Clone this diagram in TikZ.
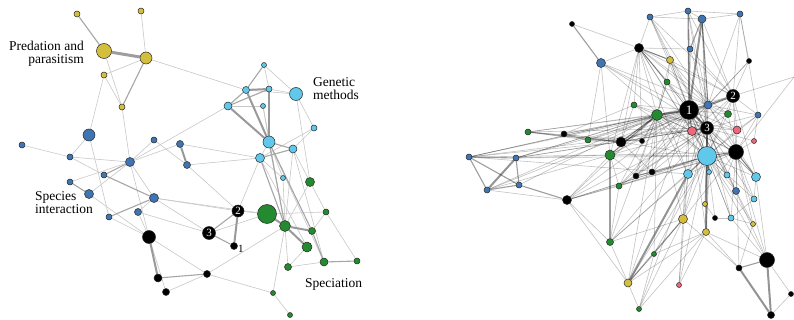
\documentclass[tikz,border=0pt]{standalone}
\usepackage{fontspec}
\setmainfont{Liberation Serif}
\usetikzlibrary{backgrounds}
\definecolor{cY}{RGB}{212,190,62}
\definecolor{cB}{RGB}{62,117,178}
\definecolor{cL}{RGB}{95,200,235}
\definecolor{cG}{RGB}{36,138,48}
\definecolor{cP}{RGB}{236,104,122}
\tikzset{
  nd/.style={circle,draw=black!85,line width=0.5pt,inner sep=0pt},
  e1/.style={line width=0.6pt,draw=black!22},
  e2/.style={line width=1.1pt,draw=black!35},
  e3/.style={line width=2pt,draw=black!40},
  e4/.style={line width=3pt,draw=black!38},
  re/.style={line width=0.6pt,draw=black,draw opacity=0.24},
  re2/.style={line width=1.1pt,draw=black,draw opacity=0.38},
  re3/.style={line width=2pt,draw=black,draw opacity=0.42},
  lab/.style={font=\fontsize{13.5}{13.5}\selectfont,inner sep=0pt},
  num/.style={text=white,font=\fontsize{11}{11}\selectfont},
}
\newcommand\nd[5]{\node[nd,fill=#2,minimum size=#3pt] (#1) at (#4,#5) {};}
\begin{document}
\begin{tikzpicture}[x=1pt,y=-1pt]
\useasboundingbox (0,0) rectangle (794,320);
% ---------------- left network nodes
\nd{Y1}{cY}{6}{77}{14}
\nd{Y2}{cY}{6}{141}{11}
\nd{Y3}{cY}{15}{104}{51}
\nd{Y4}{cY}{12}{146}{58}
\nd{Y5}{cY}{6}{104}{75}
\nd{Y6}{cY}{6}{122}{107}
\nd{B1}{cB}{12}{89}{135}
\nd{B2}{cB}{6}{22}{145}
\nd{B3}{cB}{6}{70}{157}
\nd{B4}{cB}{6}{154}{140}
\nd{B5}{cB}{7}{180}{144}
\nd{B6}{cB}{9}{130}{162}
\nd{B7}{cB}{7}{187}{165}
\nd{B8}{cB}{6}{70}{182}
\nd{B9}{cB}{6}{104}{175}
\nd{B10}{cB}{9}{89}{194}
\nd{B11}{cB}{9}{154}{198}
\nd{B12}{cB}{7}{138}{212}
\nd{B13}{cB}{6}{109}{217}
\nd{K1}{black}{13}{149}{237}
\nd{K2}{black}{8}{158}{278}
\nd{K3}{black}{7}{166}{292}
\nd{K4}{black}{7}{207}{274}
\node[nd,fill=black,minimum size=12pt,num] (N2) at (238,211) {2};
\node[nd,fill=black,minimum size=13pt,num] (N3) at (209,233) {3};
\nd{N1}{black}{7}{234}{246}
\node[font=\fontsize{11}{11}\selectfont,inner sep=0pt,anchor=base west] (N1l) at (238,252) {1};
\nd{G1}{cG}{19}{267}{214}
\nd{G2}{cG}{11}{285}{226}
\nd{G3}{cG}{9}{310}{182}
\nd{G4}{cG}{6}{326}{212}
\nd{G5}{cG}{7}{312}{231}
\nd{G6}{cG}{10}{307}{247}
\nd{G7}{cG}{8}{324}{262}
\nd{G8}{cG}{6}{357}{261}
\nd{G9}{cG}{7}{288}{267}
\nd{G10}{cG}{5}{273}{293}
\nd{G11}{cG}{5}{290}{315}
\nd{L1}{cL}{5}{264}{65}
\nd{L2}{cL}{7}{246}{90}
\nd{L3}{cL}{6}{269}{89}
\nd{L4}{cL}{13}{296}{94}
\nd{L5}{cL}{8}{228}{106}
\nd{L6}{cL}{5}{263}{106}
\nd{L7}{cL}{6}{314}{128}
\nd{L8}{cL}{12}{269}{142}
\nd{L9}{cL}{8}{293}{149}
\nd{L10}{cL}{9}{260}{158}
\nd{L11}{cL}{5}{283}{178}
% labels
\node[lab,anchor=base east] (t1a) at (84,51) {Predation and};
\node[lab,anchor=base east] (t1b) at (84,64) {parasitism};
\node[lab,anchor=base west] (t2a) at (313,87) {Genetic};
\node[lab,anchor=base west] (t2b) at (313,100) {methods};
\node[lab,anchor=base west] (t3a) at (35,201) {Species};
\node[lab,anchor=base west] (t3b) at (35,214) {interaction};
\node[lab,anchor=base west] (t4) at (305,287) {Speciation};
% ---------------- right network nodes
\nd{r1}{black}{5}{572}{24}
\nd{r2}{cB}{9}{601}{63}
\nd{r3}{cG}{6}{528}{132}
\nd{r4}{black}{6}{564}{134}
\nd{r5}{cG}{6}{588}{140}
\nd{r6}{black}{10}{621}{142}
\nd{r7}{cG}{10}{610}{155}
\nd{r8}{cB}{6}{469}{157}
\nd{r9}{cB}{6}{516}{158}
\nd{r10}{cB}{6}{650}{17}
\nd{r11}{cB}{6}{688}{11}
\nd{r12}{cB}{8}{702}{19}
\nd{r13}{cB}{6}{740}{14}
\nd{r14}{black}{9}{639}{48}
\nd{r15}{cB}{6}{690}{49}
\nd{r16}{cY}{7}{670}{60}
\nd{r17}{black}{5}{749}{61}
\nd{r18}{cG}{6}{667}{82}
\node[nd,fill=black,minimum size=13pt,num] (r19) at (733,96) {2};
\node[nd,fill=black,minimum size=19pt,text=white,font=\fontsize{13}{13}\selectfont] (r20) at (689,110) {1};
\nd{r21}{cB}{8}{708}{105}
\nd{r22}{cG}{6}{634}{105}
\nd{r23}{cG}{11}{657}{115}
\nd{r24}{cG}{7}{728}{114}
\nd{r25}{cB}{6}{758}{115}
\node[nd,fill=black,minimum size=13pt,num] (r26) at (707,128) {3};
\nd{r27}{cP}{9}{692}{131}
\nd{r28}{cP}{8}{737}{130}
\nd{r29}{cP}{5}{754}{141}
\nd{r30}{black}{5}{642}{141}
\nd{r31}{black}{15}{736}{152}
\nd{r32}{cL}{19}{707}{156}
\nd{r33}{cB}{6}{487}{190}
\nd{r34}{cB}{6}{519}{185}
\nd{r35}{cG}{6}{619}{186}
\nd{r36}{black}{9}{567}{200}
\nd{r37}{cG}{7}{610}{242}
\nd{r38}{cY}{8}{628}{283}
\nd{r39}{black}{6}{636}{176}
\nd{r40}{black}{6}{652}{172}
\nd{r41}{cL}{9}{688}{174}
\nd{r42}{cL}{5}{709}{172}
\nd{r43}{cL}{6}{727}{175}
\nd{r44}{cL}{9}{756}{177}
\nd{r45}{cB}{7}{736}{191}
\nd{r46}{cL}{6}{754}{199}
\nd{r47}{cY}{5}{705}{204}
\nd{r48}{cY}{9}{683}{219}
\nd{r49}{black}{5}{715}{218}
\nd{r50}{cL}{6}{731}{218}
\nd{r51}{cY}{5}{753}{224}
\nd{r52}{cY}{7}{706}{232}
\nd{r53}{cG}{5}{654}{254}
\nd{r54}{black}{15}{767}{260}
\nd{r55}{black}{6}{739}{268}
\nd{r56}{cP}{5}{679}{285}
\nd{r57}{black}{5}{791}{294}
\nd{r58}{cG}{5}{639}{309}
\nd{r59}{black}{7}{771}{315}
\coordinate (rx) at (794,77);
% ---------------- edges
\begin{scope}[on background layer]
% left
\foreach \a/\b in {Y2/Y4,Y3/Y6,Y5/Y6,Y5/Y4,Y4/L2,Y5/B1,Y6/B6,B1/B3,B1/B13,B2/B3,B3/B6,B3/B9,B8/B6,B12/B11,B10/B6,B6/B4,B6/B5,B4/B7,B6/L5,B6/B11,B6/K1,B11/N3,B11/G1,B10/K1,B11/N2,B12/N3,K1/K3,K1/K4,K3/K4,K4/G2,K4/G10,N2/G1,N3/G1,N2/L10,G3/G4,G4/G5,G4/G8,G2/G9,G6/G9,G9/G7,G2/G10,G10/G11,G1/G4,G3/G2,G3/L9,L10/G6,L9/G7,L9/G2,L11/G2,L1/L3,L1/L4,L5/L6,L3/L4,L2/L4,L6/L8,L4/L7,L4/G3,L7/L9,L7/L10,L8/L10,L10/L11,L8/L11,L10/B5,L10/B7,B13/K1,B12/K1,L8/G7,L6/G2,B7/N2}
  \draw[e1] (\a) -- (\b);
\foreach \a/\b in {Y1/Y3,Y4/Y6,B8/B10,B9/B6,B9/B11,B13/B11,K2/K4,N2/N3,N3/N1,G5/G7,G7/G8,L8/G2,L10/G2,L8/G5,L1/L2,L2/L5,L5/L3,L8/L9,L9/L10}
  \draw[e2] (\a) -- (\b);
\foreach \a/\b in {B5/B7,K1/K2,N2/N1,G1/G2,G2/G5,G2/G6,L2/L3,L2/L8,L3/L8,L5/L8}
  \draw[e3] (\a) -- (\b);
\draw[e4] (Y3) -- (Y4);
% right: hubs
\foreach \b in {r2,r3,r4,r5,r6,r7,r8,r9,r10,r11,r14,r16,r18,r22,r23,r24,r28,r31,r35,r36,r38,r39,r40,r43,r45,r48,r52,r33,r44,r41,r50}
  \draw[re] (r20) -- (\b);
\foreach \b in {r2,r5,r6,r7,r9,r10,r11,r12,r14,r16,r19,r21,r23,r24,r25,r28,r29,r31,r35,r37,r39,r40,r41,r42,r43,r44,r45,r46,r47,r48,r50,r52,r54,r3,r36,r22,r8}
  \draw[re] (r26) -- (\b);
\foreach \b in {r2,r6,r7,r12,r14,r16,r18,r19,r21,r23,r24,r25,r27,r28,r31,r35,r36,r38,r39,r40,r43,r44,r45,r46,r47,r48,r49,r50,r51,r53,r56,r37,r9,r22,r54}
  \draw[re] (r32) -- (\b);
\foreach \b in {r11,r12,r13,r15,r17,r24,r25,r28,r31,r44,r10,r27,r23,r6,rx,r16,r14}
  \draw[re] (r19) -- (\b);
\foreach \b in {r3,r4,r5,r6,r7,r8,r9,r14,r16,r18,r22,r30,r35,r36,r37,r38,r39,r40,r48,r53,r33,r34,r27,r41,r31,r28}
  \draw[re] (r23) -- (\b);
\foreach \b in {r24,r25,r28,r29,r41,r43,r44,r45,r46,r50,r51,r54,r55,r21,r27,r7,r40,rx,r48,r35}
  \draw[re] (r31) -- (\b);
\foreach \b in {r10,r11,r12,r13,r14,r15,r16,r17,r18,r24,r25,r27,r28,r41,r44,r6,r7,r2,r35,r39}
  \draw[re] (r21) -- (\b);
\foreach \b in {r10,r15,r16,r18,r22,r6,r7,r24,r27,r41,r30}
  \draw[re] (r14) -- (\b);
% right: periphery
\foreach \a/\b in {r2/r14,r2/r5,r2/r7,r3/r5,r4/r6,r4/r5,r5/r6,r36/r7,r36/r37,r36/r38,r36/r35,r9/r7,r8/r7,r7/r35,r37/r38,r38/r53,r38/r58,r53/r58,r53/r48,r56/r48,r56/r52,r58/r52,r58/r48,r57/r59,r54/r57,r55/r52,r54/r52,r54/r50,r54/r44,r55/r48,r55/r51,r10/r11,r10/r12,r11/r12,r12/r13,r11/r13,r10/r16,r11/r15,r13/r17,r13/r25,r14/r18,r16/r18,r17/r21,r18/r23,r22/r6,r26/r27,r40/r6,r39/r7,r35/r39,r8/r23,r8/r6,r9/r23,r33/r36,r36/r32,r36/r31,r8/r41,r9/r26,r37/r48,r37/r41,r35/r37,r38/r52,r56/r41,r58/r41,r53/r52,r25/r29,r25/r28,r44/r46,r46/r50,r51/r45,r47/r49,r49/r50,r51/r50,r5/r30,r3/r30,r4/r22,r1/r14,r41/r48,r42/r52,r33/r7}
  \draw[re] (\a) -- (\b);
\foreach \a/\b in {r1/r2,r8/r9,r8/r33,r8/r34,r9/r34,r33/r34,r34/r36,r7/r37,r38/r48,r54/r55,r11/r20,r15/r20,r12/r21,r20/r27,r31/r32,r32/r41,r14/r16,r3/r6,r39/r40,r6/r23,r7/r23,r44/r31,r12/r15}
  \draw[re2] (\a) -- (\b);
\foreach \a/\b in {r9/r33,r38/r41,r54/r59,r55/r59,r12/r20,r21/r19,r20/r21,r20/r26,r26/r32,r32/r42,r32/r52,r20/r23}
  \draw[re3] (\a) -- (\b);
\end{scope}
\end{tikzpicture}
\end{document}
